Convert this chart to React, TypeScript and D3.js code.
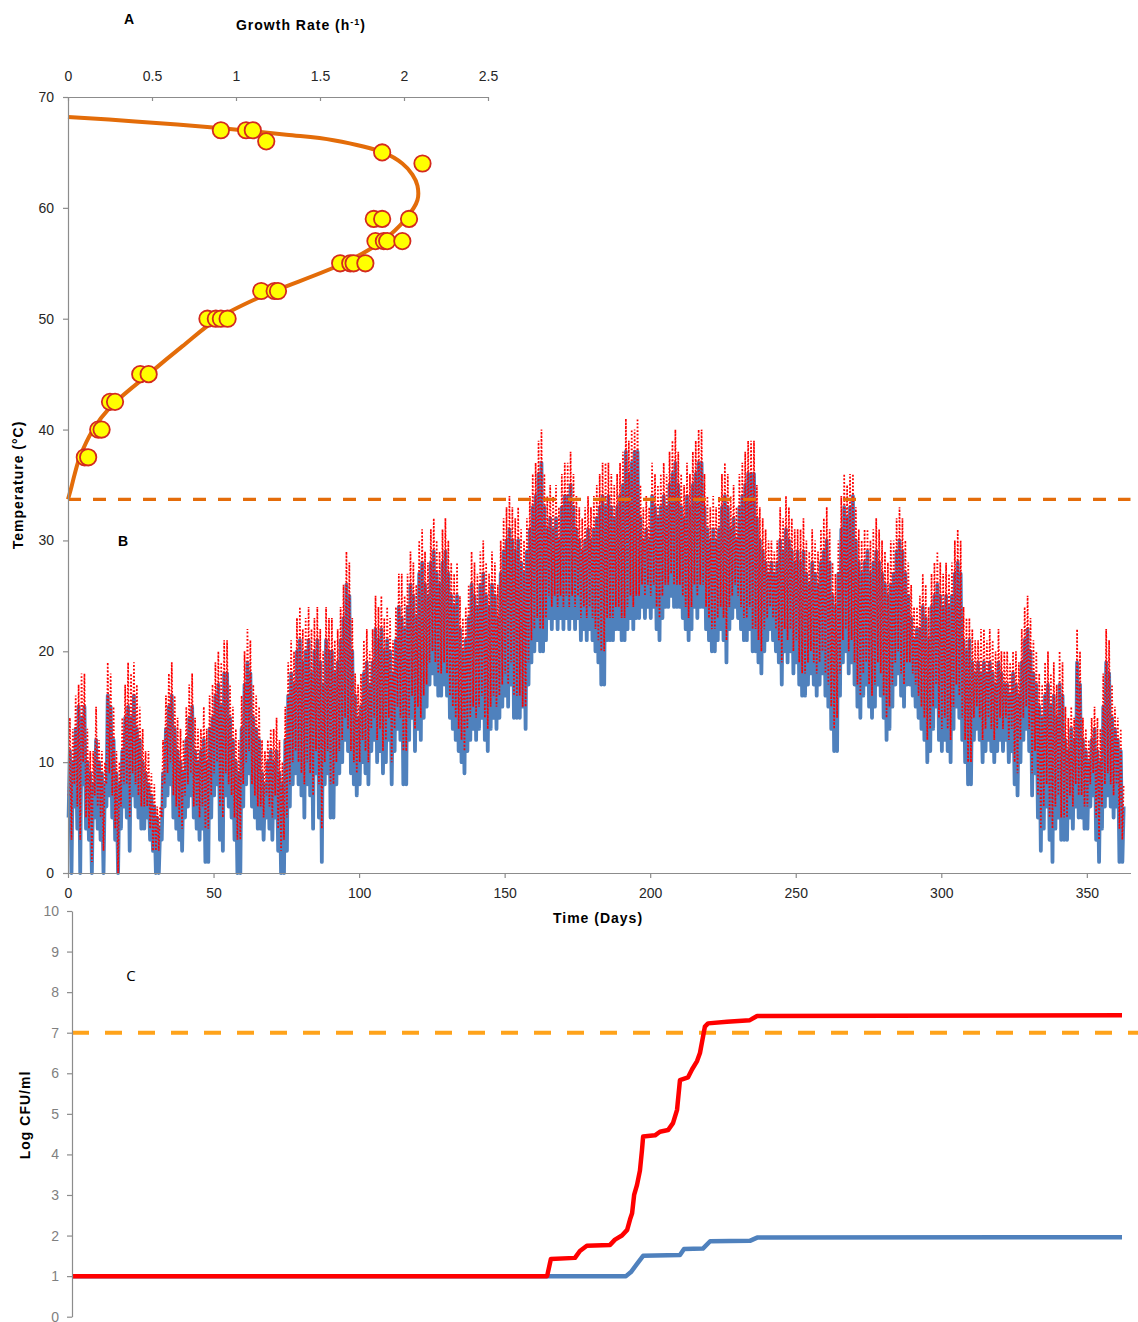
import React, { useEffect, useRef } from 'react';
import * as d3 from 'd3';

const W = 1138;
const H = 1322;
const FONT = "'Liberation Sans', Arial, sans-serif";

// ---- Panel A: growth rate vs temperature
const curveTemp = [33.7, 34.8, 36, 37.5, 40, 42, 45, 47.5, 50, 52, 55, 57, 59, 60.7, 62, 63, 64, 65, 66.1, 66.6, 67.2, 67.8, 68.2];
const curveRate = [0, 0.02, 0.04, 0.07, 0.15, 0.25, 0.48, 0.68, 0.89, 1.15, 1.64, 1.87, 2.01, 2.08, 2.08, 2.05, 1.99, 1.875, 1.58, 1.3, 0.9, 0.4, 0];
const pointTemp = [67, 67, 67, 66, 65, 64, 59, 59, 59, 57, 57, 57, 57, 55, 55, 55, 55, 52.5, 52.5, 52.5, 50, 50, 50, 50, 45, 45, 42.5, 42.5, 40, 40, 37.5, 37.5];
const pointRate = [0.91, 1.06, 1.1, 1.18, 1.87, 2.11, 1.82, 1.87, 2.03, 1.83, 1.88, 1.9, 1.99, 1.62, 1.68, 1.7, 1.77, 1.15, 1.23, 1.25, 0.83, 0.88, 0.91, 0.95, 0.43, 0.48, 0.25, 0.28, 0.18, 0.2, 0.1, 0.12];
const rateTicks = [0, 0.5, 1, 1.5, 2, 2.5];
const tempTicks = [0, 10, 20, 30, 40, 50, 60, 70];
const minGrowthTemp = 33.7;

// ---- Panel B: daily temperature range (blue solid, red dotted)
const blueHigh = [
  11, 10, 13, 15, 14, 15, 10, 9, 8, 12,
  10, 9, 8, 16, 15, 12, 9, 8, 11, 14,
  15, 14, 16, 13, 12, 10, 9, 8, 7, 6,
  5, 4, 9, 13, 15, 16, 13, 11, 10, 9,
  12, 14, 15, 11, 10, 11, 12, 10, 13, 14,
  16, 17, 15, 18, 18, 14, 12, 10, 9, 13,
  17, 19, 18, 14, 13, 12, 9, 8, 10, 11,
  10, 11, 9, 8, 12, 16, 18, 17, 20, 21,
  19, 20, 21, 18, 20, 21, 19, 17, 21, 20,
  20, 18, 19, 21, 23, 26, 25, 20, 16, 14,
  15, 18, 19, 17, 19, 22, 21, 22, 20, 21,
  20, 18, 21, 24, 23, 22, 24, 26, 25, 23,
  27, 28, 26, 25, 28, 29, 27, 26, 28, 29,
  27, 25, 24, 25, 22, 20, 21, 23, 26, 25,
  24, 26, 27, 25, 24, 26, 25, 23, 27, 29,
  30, 31, 30, 29, 30, 28, 27, 29, 31, 33,
  34, 36, 37, 33, 31, 32, 31, 32, 30, 33,
  34, 34, 35, 33, 31, 30, 29, 30, 31, 30,
  31, 32, 33, 34, 33, 34, 33, 32, 33, 34,
  35, 38, 36, 37, 38, 38, 32, 30, 31, 30,
  34, 33, 32, 33, 34, 33, 35, 36, 37, 35,
  33, 32, 34, 33, 35, 36, 37, 37, 33, 31,
  30, 31, 30, 31, 33, 34, 33, 31, 32, 30,
  33, 34, 35, 36, 36, 36, 32, 30, 29, 28,
  27, 28, 27, 28, 30, 29, 31, 30, 29, 28,
  29, 28, 29, 27, 26, 28, 27, 26, 28, 29,
  30, 28, 25, 24, 27, 31, 33, 32, 33, 34,
  30, 28, 27, 28, 29, 27, 28, 29, 28, 27,
  26, 25, 26, 27, 29, 30, 29, 27, 25, 23,
  21, 22, 22, 24, 23, 21, 24, 25, 26, 25,
  24, 25, 24, 25, 27, 28, 27, 21, 20, 21,
  19, 18, 19, 18, 19, 18, 19, 18, 17, 19,
  18, 17, 17, 16, 18, 17, 16, 19, 21, 22,
  20, 18, 17, 15, 14, 16, 17, 15, 16, 14,
  17, 16, 12, 11, 13, 12, 19, 17, 12, 11,
  10, 12, 13, 11, 10, 15, 19, 18, 14, 13,
  12, 11, 6,
];
const blueLow = [
  5, 0, 6, 4, 0, 8, 4, 3, 0, 5,
  4, 3, 0, 6, 7, 5, 3, 0, 4, 6,
  5, 2, 7, 6, 5, 4, 4, 5, 3, 2,
  0, 0, 3, 6, 7, 8, 5, 4, 3, 2,
  5, 6, 7, 5, 4, 3, 4, 1, 1, 5,
  7, 8, 3, 2, 7, 6, 5, 3, 0, 0,
  6, 8, 9, 6, 5, 4, 4, 3, 5, 4,
  3, 5, 2, 0, 0, 2, 6, 8, 9, 8,
  7, 5, 8, 7, 4, 9, 5, 1, 8, 9,
  5, 5, 8, 9, 10, 12, 11, 9, 8, 7,
  8, 10, 9, 8, 11, 12, 10, 11, 9, 10,
  12, 8, 11, 13, 12, 8, 8, 12, 14, 11,
  13, 12, 14, 15, 17, 18, 17, 16, 16, 17,
  16, 14, 13, 12, 11, 10, 9, 11, 12, 13,
  12, 13, 14, 12, 11, 13, 14, 13, 14, 15,
  16, 15, 17, 14, 14, 14, 15, 13, 17, 19,
  20, 21, 20, 20, 21, 23, 22, 23, 22, 23,
  22, 23, 22, 23, 22, 23, 21, 22, 21, 22,
  21, 20, 19, 17, 17, 21, 21, 21, 22, 22,
  21, 21, 22, 23, 22, 23, 23, 24, 23, 24,
  23, 24, 22, 21, 23, 24, 24, 25, 24, 24,
  24, 23, 22, 21, 22, 24, 23, 24, 24, 22,
  21, 20, 20, 21, 22, 21, 19, 22, 23, 24,
  23, 22, 21, 21, 22, 20, 20, 19, 18, 20,
  21, 22, 21, 20, 19, 17, 20, 19, 20, 18,
  19, 17, 16, 16, 17, 18, 17, 16, 17, 18,
  16, 15, 13, 11, 11, 16, 19, 20, 18, 19,
  17, 15, 14, 16, 17, 15, 14, 15, 17, 16,
  14, 12, 13, 15, 17, 18, 16, 15, 17, 17,
  16, 15, 14, 13, 12, 10, 11, 13, 15, 12,
  11, 12, 11, 10, 13, 15, 14, 12, 10, 8,
  8, 12, 13, 12, 10, 11, 12, 11, 10, 11,
  12, 11, 12, 10, 11, 8, 7, 10, 12, 13,
  11, 7, 9, 5, 2, 4, 6, 3, 1, 4,
  5, 3, 3, 3, 5, 4, 6, 5, 5, 4,
  4, 6, 7, 3, 1, 4, 6, 7, 6, 5,
  6, 1, 1,
];
const redHigh = [
  14, 13, 16, 17, 18, 18, 13, 11, 11, 15,
  12, 11, 10, 19, 18, 15, 11, 10, 14, 17,
  19, 18, 19, 17, 15, 13, 11, 11, 9, 8,
  6, 6, 12, 16, 18, 19, 16, 14, 13, 12,
  15, 17, 18, 14, 13, 13, 15, 13, 16, 17,
  19, 20, 19, 21, 21, 17, 15, 13, 12, 16,
  20, 22, 21, 17, 16, 15, 12, 11, 12, 13,
  13, 14, 12, 10, 15, 19, 21, 20, 23, 24,
  22, 23, 24, 22, 23, 24, 22, 20, 24, 23,
  23, 21, 22, 24, 26, 29, 28, 23, 18, 17,
  18, 21, 22, 20, 22, 25, 24, 25, 23, 24,
  23, 21, 24, 27, 27, 25, 27, 29, 28, 26,
  30, 31, 29, 28, 31, 32, 30, 29, 31, 32,
  30, 28, 27, 28, 25, 23, 24, 26, 29, 28,
  27, 29, 30, 28, 27, 29, 28, 26, 30, 32,
  33, 34, 33, 32, 33, 31, 30, 32, 34, 36,
  37, 39, 40, 36, 34, 35, 34, 35, 33, 36,
  37, 37, 38, 36, 34, 33, 32, 33, 34, 33,
  34, 35, 36, 37, 37, 37, 36, 35, 36, 37,
  38, 41, 39, 40, 40, 41, 35, 33, 34, 33,
  37, 36, 35, 36, 37, 36, 38, 39, 40, 38,
  36, 35, 37, 36, 38, 39, 40, 40, 36, 34,
  33, 34, 33, 34, 36, 37, 36, 34, 35, 33,
  36, 37, 38, 39, 39, 39, 35, 33, 32, 31,
  30, 30, 29, 30, 33, 32, 34, 33, 32, 31,
  31, 31, 32, 30, 29, 31, 30, 29, 31, 32,
  33, 31, 28, 27, 30, 34, 36, 35, 36, 36,
  33, 31, 30, 31, 31, 30, 31, 32, 31, 30,
  29, 28, 30, 30, 32, 33, 32, 30, 28, 26,
  24, 24, 25, 27, 26, 24, 27, 28, 29, 28,
  27, 28, 27, 28, 30, 31, 30, 24, 23, 23,
  22, 21, 21, 22, 22, 21, 22, 21, 20, 22,
  20, 20, 20, 19, 20, 20, 19, 22, 24, 25,
  23, 21, 20, 18, 17, 19, 20, 18, 19, 17,
  20, 19, 15, 14, 15, 14, 22, 20, 14, 13,
  12, 14, 15, 14, 13, 18, 22, 21, 17, 15,
  14, 13, 8,
];
const redLow = [
  7, 3, 8, 6, 3, 10, 5, 4, 1, 7,
  6, 5, 2, 8, 9, 7, 4, 0, 6, 8,
  8, 5, 9, 8, 7, 6, 6, 6, 4, 2,
  2, 2, 5, 8, 9, 10, 7, 6, 5, 4,
  7, 8, 9, 6, 6, 5, 6, 4, 4, 7,
  9, 10, 6, 5, 9, 8, 7, 5, 3, 3,
  8, 10, 11, 8, 7, 6, 6, 5, 7, 6,
  5, 7, 4, 2, 3, 5, 8, 10, 11, 10,
  9, 8, 10, 9, 7, 11, 8, 4, 10, 11,
  8, 8, 10, 11, 12, 14, 13, 11, 10, 9,
  10, 12, 11, 10, 13, 14, 12, 13, 11, 12,
  14, 10, 13, 15, 14, 11, 11, 14, 16, 13,
  15, 14, 16, 17, 19, 20, 19, 18, 18, 19,
  18, 16, 15, 14, 13, 12, 11, 13, 14, 15,
  14, 15, 16, 14, 13, 15, 16, 15, 16, 17,
  18, 17, 19, 16, 16, 16, 15, 15, 19, 21,
  22, 23, 22, 22, 23, 25, 24, 25, 24, 25,
  24, 25, 24, 25, 24, 25, 23, 24, 23, 24,
  23, 22, 21, 20, 20, 23, 23, 23, 24, 24,
  23, 23, 24, 25, 24, 25, 25, 26, 25, 26,
  25, 26, 24, 23, 25, 26, 26, 27, 26, 26,
  26, 25, 24, 23, 24, 26, 25, 26, 26, 24,
  23, 22, 22, 23, 24, 23, 21, 24, 25, 26,
  25, 24, 23, 23, 24, 22, 22, 21, 20, 22,
  23, 24, 23, 22, 21, 19, 22, 21, 22, 20,
  21, 19, 18, 18, 19, 20, 19, 18, 19, 20,
  18, 17, 15, 13, 14, 18, 21, 22, 20, 21,
  19, 17, 16, 18, 19, 17, 16, 17, 19, 18,
  16, 14, 15, 17, 19, 20, 18, 17, 19, 19,
  18, 17, 16, 15, 14, 12, 13, 15, 17, 14,
  13, 14, 13, 12, 15, 17, 16, 14, 12, 10,
  10, 14, 15, 14, 12, 13, 14, 13, 12, 13,
  14, 13, 14, 12, 13, 10, 9, 12, 14, 15,
  13, 9, 11, 7, 4, 6, 8, 5, 4, 6,
  7, 5, 5, 5, 7, 6, 8, 7, 7, 6,
  6, 8, 9, 5, 3, 6, 8, 9, 8, 7,
  8, 4, 3,
];
const dayTicks = [0, 50, 100, 150, 200, 250, 300, 350];

// ---- Panel C: predicted counts
const blueDays = [0, 191, 192.7, 194.8, 196.9, 209.6, 211, 217.5, 220, 233.7, 236.2, 362];
const blueLog = [1, 1, 1.1, 1.3, 1.5, 1.52, 1.67, 1.68, 1.86, 1.87, 1.95, 1.96];
const redDays = [0, 163.8, 165.1, 173.4, 175.1, 177.5, 185.5, 187.2, 189.6, 191.4, 192.4, 193.1, 193.8, 194.8, 195.8, 196.5, 196.9, 201, 202.7, 205.5, 207.2, 208.6, 209.6, 212.4, 213.8, 215.5, 216.5, 218.2, 219.3, 225.8, 233.7, 236.2, 362];
const redLog = [1, 1, 1.42, 1.45, 1.62, 1.75, 1.77, 1.9, 2, 2.14, 2.4, 2.55, 3, 3.25, 3.6, 4.1, 4.44, 4.47, 4.56, 4.6, 4.77, 5.1, 5.83, 5.9, 6.1, 6.3, 6.5, 7.15, 7.23, 7.27, 7.31, 7.41, 7.43];
const logTicks = [0, 1, 2, 3, 4, 5, 6, 7, 8, 9, 10];
const spoilageLog = 7;

const AXIS = '#8c8c8c';

const styleAxis = (g: any, color: string) => {
  g.attr('font-family', FONT).attr('font-size', 14);
  g.select('.domain').attr('stroke', AXIS).attr('stroke-width', 1.2);
  g.selectAll('.tick line').attr('stroke', AXIS).attr('stroke-width', 1.2);
  g.selectAll('.tick text').attr('fill', color);
};

export default function App() {
  const ref = useRef<SVGSVGElement>(null);

  useEffect(() => {
    document.body.style.margin = '0';
    const svg = d3.select(ref.current);
    svg.selectAll('*').remove();

    const yTemp = d3.scaleLinear([0, 70], [873, 97]);
    const xRate = d3.scaleLinear([0, 2.5], [68, 488]);
    const xDay = d3.scaleLinear([0, 365], [68, 1130.5]);
    const xDayC = d3.scaleLinear([0, 362], [72, 1122]);
    const yLog = d3.scaleLinear([0, 10], [1316.7, 911]);

    // ---- Panel B traces (diurnal zig-zag: low in morning, high in afternoon)
    const zig = (lo: number[], hi: number[]) => {
      const pts: [number, number][] = [];
      hi.forEach((h, i) => {
        pts.push([i + 0.2, lo[i]], [i + 0.65, h]);
      });
      return pts;
    };
    const tLine = d3.line<[number, number]>()
      .x(d => xDay(d[0]))
      .y(d => yTemp(d[1]));

    svg.append('path')
      .attr('d', tLine(zig(blueLow, blueHigh)))
      .attr('fill', 'none')
      .attr('stroke', '#4F81BD')
      .attr('stroke-width', 3.8)
      .attr('stroke-linejoin', 'round');

    svg.append('path')
      .attr('d', tLine(zig(redLow, redHigh)))
      .attr('fill', 'none')
      .attr('stroke', '#FF0000')
      .attr('stroke-width', 1.7)
      .attr('stroke-dasharray', '1.7 1.9');

    // threshold dashed line
    svg.append('line')
      .attr('x1', xDay(0)).attr('x2', xDay(365))
      .attr('y1', yTemp(minGrowthTemp)).attr('y2', yTemp(minGrowthTemp))
      .attr('stroke', '#E46C0A')
      .attr('stroke-width', 3.2)
      .attr('stroke-dasharray', '13 12');

    // ---- Panel A curve + points
    const gLine = d3.line<number>()
      .x((_, i) => xRate(curveRate[i]))
      .y(d => yTemp(d))
      .curve(d3.curveCatmullRom);
    svg.append('path')
      .attr('d', gLine(curveTemp))
      .attr('fill', 'none')
      .attr('stroke', '#E36C09')
      .attr('stroke-width', 4);

    svg.append('g').selectAll('circle')
      .data(pointTemp)
      .join('circle')
      .attr('cx', (_, i) => xRate(pointRate[i]))
      .attr('cy', d => yTemp(d))
      .attr('r', 8.2)
      .attr('fill', '#FFFF00')
      .attr('stroke', '#D42A1E')
      .attr('stroke-width', 1.8);

    // ---- Axes A/B
    svg.append('g')
      .attr('transform', 'translate(68,0)')
      .call(d3.axisLeft(yTemp).tickValues(tempTicks).tickSize(5).tickSizeOuter(0).tickPadding(9))
      .call(g => styleAxis(g, '#262626'));

    svg.append('g')
      .attr('transform', `translate(0,${yTemp(70)})`)
      .call(d3.axisTop(xRate).tickValues(rateTicks).tickSize(-4).tickSizeOuter(0).tickPadding(16).tickFormat(d => String(d)))
      .call(g => styleAxis(g, '#262626'));

    svg.append('g')
      .attr('transform', `translate(0,${yTemp(0)})`)
      .call(d3.axisBottom(xDay).tickValues(dayTicks).tickSize(5).tickSizeOuter(0).tickPadding(10).tickFormat(d => String(d)))
      .call(g => styleAxis(g, '#262626'));

    // ---- Panel C
    svg.append('line')
      .attr('x1', xDayC(0)).attr('x2', W)
      .attr('y1', yLog(spoilageLog)).attr('y2', yLog(spoilageLog))
      .attr('stroke', '#FFA31A')
      .attr('stroke-width', 4)
      .attr('stroke-dasharray', '17 16');

    const cLine = (days: number[]) => d3.line<number>()
      .x((_, i) => xDayC(days[i]))
      .y(d => yLog(d));

    svg.append('path')
      .attr('d', cLine(blueDays)(blueLog))
      .attr('fill', 'none')
      .attr('stroke', '#4F81BD')
      .attr('stroke-width', 4.5)
      .attr('stroke-linejoin', 'round');

    svg.append('path')
      .attr('d', cLine(redDays)(redLog))
      .attr('fill', 'none')
      .attr('stroke', '#FF0000')
      .attr('stroke-width', 4.5)
      .attr('stroke-linejoin', 'round');

    svg.append('g')
      .attr('transform', `translate(${xDayC(0)},0)`)
      .call(d3.axisLeft(yLog).tickValues(logTicks).tickSize(5).tickSizeOuter(0).tickPadding(8))
      .call(g => styleAxis(g, '#7f7f7f'));

    // ---- Labels
    const label = (x: number, y: number, text: string, opts: any = {}) =>
      svg.append('text')
        .attr('x', x).attr('y', y)
        .attr('text-anchor', opts.anchor ?? 'middle')
        .attr('font-family', opts.family ?? FONT)
        .attr('font-size', opts.size ?? 14)
        .attr('font-weight', opts.weight ?? 'bold')
        .attr('letter-spacing', opts.spacing ?? 0)
        .attr('fill', '#000')
        .attr('transform', opts.rotate ? `rotate(-90,${x},${y})` : null)
        .text(text);

    label(129, 24, 'A');
    const gr = svg.append('text')
      .attr('x', 301).attr('y', 30)
      .attr('text-anchor', 'middle')
      .attr('letter-spacing', 1)
      .attr('font-family', FONT).attr('font-size', 14).attr('font-weight', 'bold');
    gr.append('tspan').text('Growth Rate (h');
    gr.append('tspan').attr('dy', -5).attr('font-size', 9).text('-1');
    gr.append('tspan').attr('dy', 5).text(')');

    label(23, 485, 'Temperature (°C)', { rotate: true, spacing: 1 });
    label(123, 546, 'B');
    label(598, 923, 'Time (Days)', { spacing: 1 });
    label(30, 1115, 'Log CFU/ml', { rotate: true, spacing: 1 });
    label(131, 981, 'C', { weight: 'normal', size: 15, family: "'Open Sans', sans-serif" });
  }, []);

  return <svg ref={ref} width={W} height={H} style={{ display: 'block', background: '#fff' }} />;
}
